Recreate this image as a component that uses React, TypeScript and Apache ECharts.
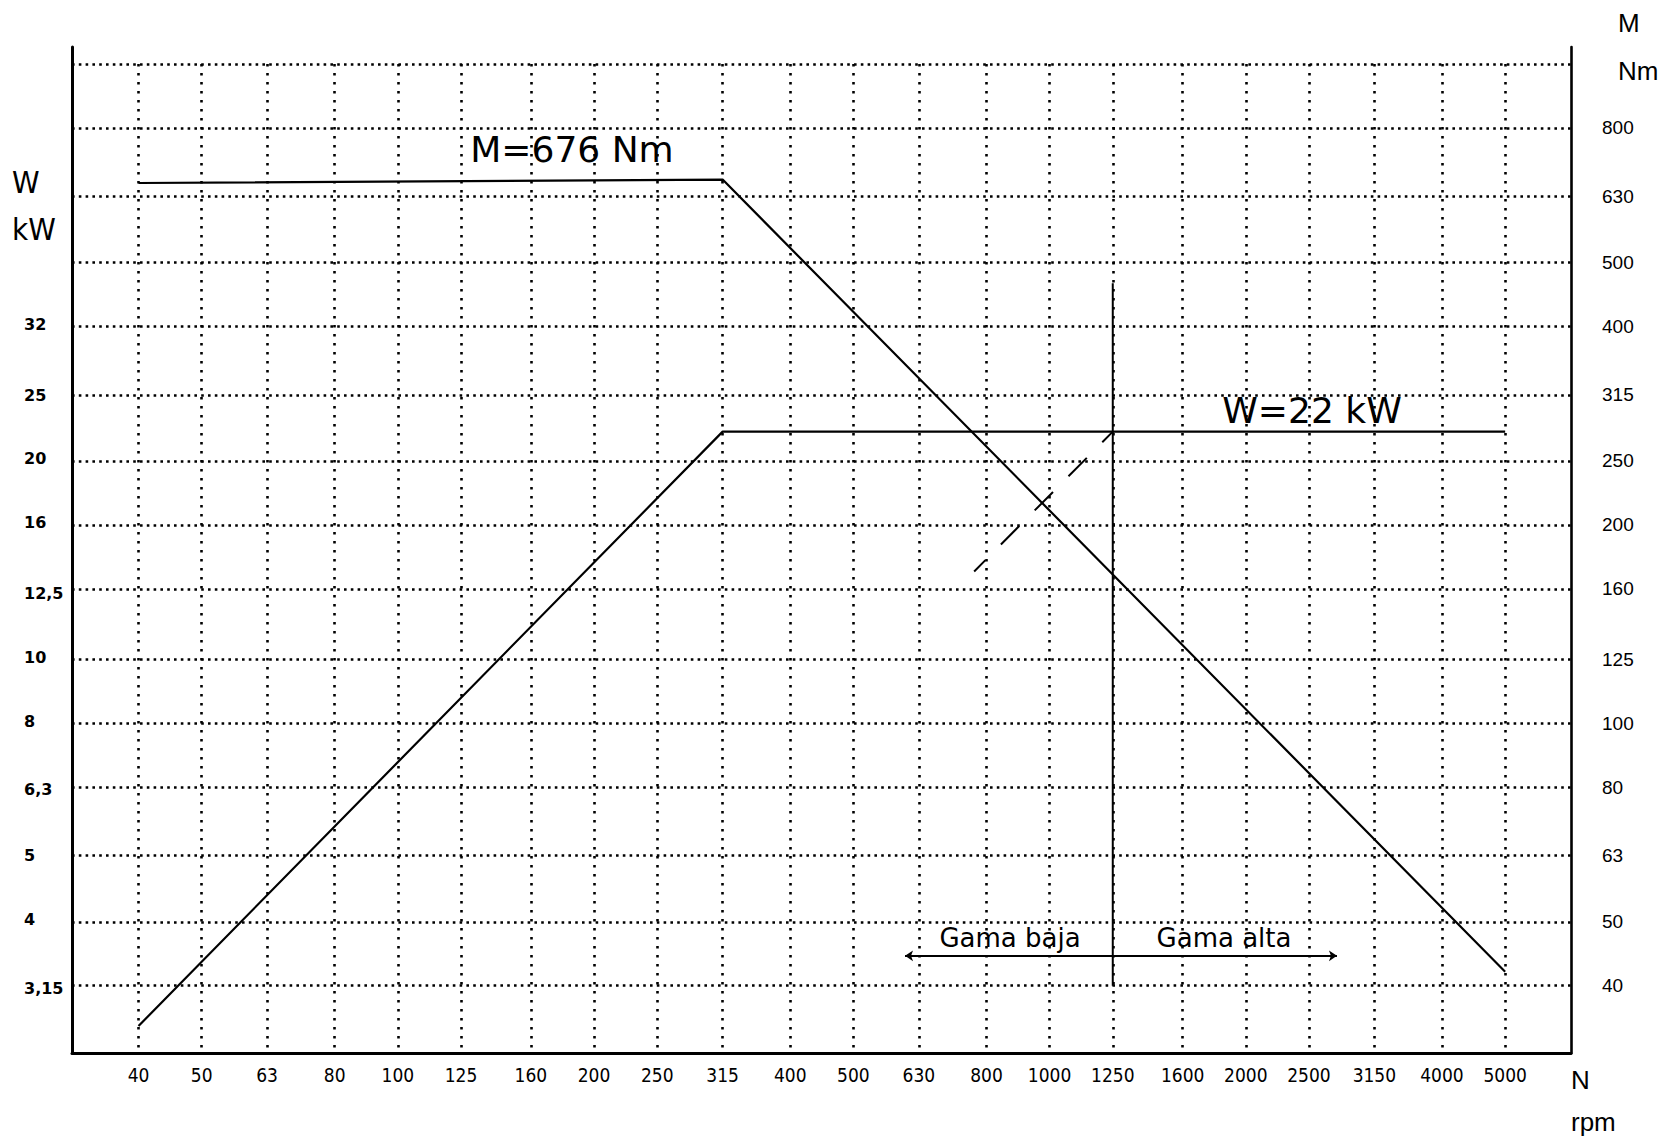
import React, { useEffect, useRef } from 'react';
import * as echarts from 'echarts';

// ---- tick values and labels ----
const rpmTicks = [40, 50, 63, 80, 100, 125, 160, 200, 250, 315, 400, 500, 630, 800, 1000, 1250, 1600, 2000, 2500, 3150, 4000, 5000];
const rpmLabels = ['40', '50', '63', '80', '100', '125', '160', '200', '250', '315', '400', '500', '630', '800', '1000', '1250', '1600', '2000', '2500', '3150', '4000', '5000'];
const torqueTicks = [40, 50, 63, 80, 100, 125, 160, 200, 250, 315, 400, 500, 630, 800, 1000];
const torqueLabelTicks = [40, 50, 63, 80, 100, 125, 160, 200, 250, 315, 400, 500, 630, 800];
const torqueLabels = ['40', '50', '63', '80', '100', '125', '160', '200', '250', '315', '400', '500', '630', '800'];
const powerTicks = [3.15, 4, 5, 6.3, 8, 10, 12.5, 16, 20, 25, 32];
const powerLabels = ['3,15', '4', '5', '6,3', '8', '10', '12,5', '16', '20', '25', '32'];

// ---- series values ----
const torqueRpm = [40, 315, 5000];
const torqueNm = [660, 668, 42];
const powerRpm = [40, 315, 5000];
const powerKw = [2.76, 22, 22];
const splitRpm = [1250, 1250];
const splitNm = [465, 40];
const extRpm = [766, 1250];
const extKw = [13.5, 22];
const gamaRpm = [600, 2760];
const gamaNm = [44.4, 44.4];

const pairs = (xs: number[], ys: number[]) => xs.map((x, i) => [x, ys[i]]);

const labelFor = (ticks: number[], labels: string[]) => (v: number) => {
  const i = ticks.findIndex((t) => Math.abs(t - v) / t < 0.01);
  return i >= 0 ? labels[i] : '';
};

const NARROW = '"Liberation Sans Narrow", "DejaVu Sans Condensed", sans-serif';
const SANS = '"Liberation Sans", Arial, sans-serif';
const DJ = '"DejaVu Sans", sans-serif';

export default function App() {
  const ref = useRef<HTMLDivElement>(null);
  useEffect(() => {
    if (!ref.current) return;
    const chart = echarts.init(ref.current, undefined, { renderer: 'svg' });
    const lineStyle = { color: '#000', width: 2.2 };
    const option: any = {
      animation: false,
      backgroundColor: '#fff',
      grid: [
        { left: 72, right: 105, top: 47, bottom: 85, outerBoundsMode: 'none' },
        { left: 72, right: 105, top: 64, bottom: 85, outerBoundsMode: 'none' },
      ],
      xAxis: [
        { gridIndex: 0, type: 'value', min: 0, max: 1, show: false },
        {
          gridIndex: 1,
          type: 'log',
          logBase: 10,
          min: Math.pow(10, 1.5),
          max: Math.pow(10, 3.8),
          axisLine: { show: true, onZero: false, lineStyle: { color: '#000', width: 3 } },
          axisTick: { show: false, customValues: rpmTicks },
          axisLabel: {
            customValues: rpmTicks,
            formatter: labelFor(rpmTicks, rpmLabels),
            color: '#000',
            fontFamily: NARROW,
            fontSize: 19,
            margin: 12,
          },
          splitLine: { show: true, lineStyle: { color: '#000', width: 2.6, type: [2.6, 6.4] } },
          minorTick: { show: false },
          minorSplitLine: { show: false },
        },
      ],
      yAxis: [
        {
          gridIndex: 0, type: 'value', min: 0, max: 1, position: 'left',
          axisLine: { show: true, onZero: false, lineStyle: { color: '#000', width: 3 } },
          axisTick: { show: false }, axisLabel: { show: false }, splitLine: { show: false },
        },
        {
          gridIndex: 0, type: 'value', min: 0, max: 1, position: 'right',
          axisLine: { show: true, onZero: false, lineStyle: { color: '#000', width: 2.6 } },
          axisTick: { show: false }, axisLabel: { show: false }, splitLine: { show: false },
        },
        {
          gridIndex: 1,
          type: 'log',
          logBase: 10,
          position: 'left',
          min: Math.pow(10, 0.4),
          max: Math.pow(10, 1.9),
          axisLine: { show: false },
          axisTick: { show: false, customValues: powerTicks },
          axisLabel: {
            customValues: powerTicks,
            formatter: labelFor(powerTicks, powerLabels),
            color: '#000',
            fontFamily: DJ,
            fontWeight: 'bold',
            fontSize: 16,
            align: 'left',
            margin: 48,
          },
          splitLine: { show: false },
        },
        {
          gridIndex: 1,
          type: 'log',
          logBase: 10,
          position: 'right',
          min: Math.pow(10, 1.5),
          max: 1000,
          axisLine: { show: false },
          axisTick: { show: false, customValues: torqueTicks },
          axisLabel: {
            customValues: torqueLabelTicks,
            formatter: labelFor(torqueLabelTicks, torqueLabels),
            color: '#000',
            fontFamily: SANS,
            fontSize: 19,
            align: 'left',
            margin: 31,
          },
          splitLine: { show: true, lineStyle: { color: '#000', width: 2.6, type: [2.6, 4.2] } },
        },
      ],
      series: [
        {
          name: 'M', type: 'line', xAxisIndex: 1, yAxisIndex: 3, symbol: 'none', silent: true,
          data: pairs(torqueRpm, torqueNm), lineStyle,
        },
        {
          name: 'W', type: 'line', xAxisIndex: 1, yAxisIndex: 2, symbol: 'none', silent: true,
          data: pairs(powerRpm, powerKw), lineStyle,
        },
        {
          name: 'split', type: 'line', xAxisIndex: 1, yAxisIndex: 3, symbol: 'none', silent: true,
          data: pairs(splitRpm, splitNm), lineStyle: { color: '#000', width: 2 },
        },
        {
          name: 'ext', type: 'line', xAxisIndex: 1, yAxisIndex: 2, symbol: 'none', silent: true,
          data: pairs(extRpm, extKw),
          lineStyle: { color: '#000', width: 2, type: [26, 22], dashOffset: 10 },
        },
        {
          name: 'gama', type: 'lines', coordinateSystem: 'cartesian2d', xAxisIndex: 1, yAxisIndex: 3,
          silent: true, symbol: ['arrow', 'arrow'], symbolSize: 8,
          data: [{ coords: pairs(gamaRpm, gamaNm) }],
          lineStyle: { color: '#000', width: 2, opacity: 1 },
        },
      ],
      graphic: [
        { type: 'text', x: 12, y: 182, style: { text: 'W', font: `31px ${NARROW}`, fill: '#000', align: 'left', verticalAlign: 'middle' } },
        { type: 'text', x: 12, y: 229, style: { text: 'kW', font: `31px ${NARROW}`, fill: '#000', align: 'left', verticalAlign: 'middle' } },
        { type: 'text', x: 1618, y: 23, style: { text: 'M', font: `26px ${SANS}`, fill: '#000', align: 'left', verticalAlign: 'middle' } },
        { type: 'text', x: 1618, y: 71, style: { text: 'Nm', font: `26px ${SANS}`, fill: '#000', align: 'left', verticalAlign: 'middle' } },
        { type: 'text', x: 1571, y: 1080, style: { text: 'N', font: `26px ${SANS}`, fill: '#000', align: 'left', verticalAlign: 'middle' } },
        { type: 'text', x: 1571, y: 1122, style: { text: 'rpm', font: `26px ${SANS}`, fill: '#000', align: 'left', verticalAlign: 'middle' } },
        { type: 'text', x: 572, y: 149, style: { text: 'M=676 Nm', font: `36px ${DJ}`, fill: '#000', align: 'center', verticalAlign: 'middle' } },
        { type: 'text', x: 1312, y: 410, style: { text: 'W=22 kW', font: `36px ${DJ}`, fill: '#000', align: 'center', verticalAlign: 'middle' } },
        { type: 'text', x: 1010, y: 938, style: { text: 'Gama baja', font: `26px ${DJ}`, fill: '#000', align: 'center', verticalAlign: 'middle' } },
        { type: 'text', x: 1224, y: 938, style: { text: 'Gama alta', font: `26px ${DJ}`, fill: '#000', align: 'center', verticalAlign: 'middle' } },
      ],
    };
    chart.setOption(option);
    return () => chart.dispose();
  }, []);
  return <div ref={ref} style={{ position: 'fixed', left: 0, top: 0, width: 1676, height: 1138 }} />;
}
